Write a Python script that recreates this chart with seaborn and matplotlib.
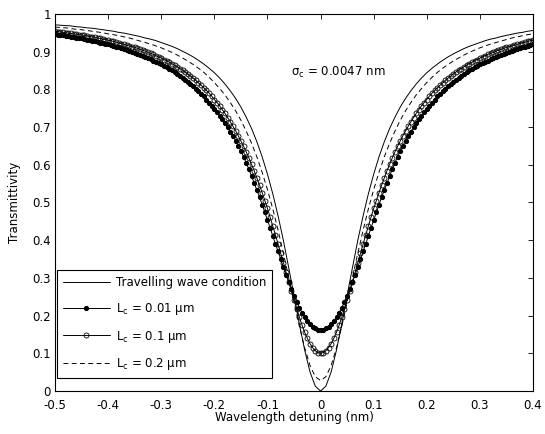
import numpy as np
import matplotlib
matplotlib.use("Agg")
import matplotlib.pyplot as plt
import seaborn as sns
from matplotlib.ticker import FuncFormatter, MultipleLocator

# detuning grids (nm): lines every 0.01, marker curves every 0.005
x_line = np.round(np.linspace(-0.5, 0.4, 91), 3)
x_mark = np.round(np.linspace(-0.5, 0.4, 181), 4)

# travelling wave condition
trav_wave = [
    0.971, 0.970, 0.969, 0.968, 0.966, 0.965, 0.963, 0.962, 0.960, 0.958,
    0.956, 0.954, 0.951, 0.949, 0.946, 0.943, 0.940, 0.936, 0.933, 0.929,
    0.924, 0.919, 0.914, 0.908, 0.901, 0.894, 0.886, 0.877, 0.867, 0.856,
    0.844, 0.830, 0.814, 0.796, 0.776, 0.753, 0.726, 0.696, 0.661, 0.621,
    0.575, 0.523, 0.464, 0.399, 0.327, 0.253, 0.178, 0.109, 0.051, 0.013,
    0.000,
    0.013, 0.051, 0.109, 0.178, 0.253, 0.327, 0.399, 0.464, 0.523, 0.575,
    0.621, 0.661, 0.696, 0.726, 0.753, 0.776, 0.796, 0.814, 0.830, 0.844,
    0.856, 0.867, 0.877, 0.886, 0.894, 0.901, 0.908, 0.914, 0.919, 0.924,
    0.929, 0.933, 0.936, 0.940, 0.943, 0.946, 0.949, 0.951, 0.954, 0.956,
]

# Lc = 0.2 um (dashed)
lc_02 = [
    0.965, 0.964, 0.963, 0.961, 0.959, 0.958, 0.956, 0.954, 0.952, 0.950,
    0.947, 0.945, 0.942, 0.939, 0.936, 0.932, 0.928, 0.924, 0.920, 0.915,
    0.910, 0.904, 0.898, 0.891, 0.883, 0.875, 0.866, 0.856, 0.845, 0.832,
    0.818, 0.802, 0.785, 0.765, 0.743, 0.718, 0.689, 0.657, 0.621, 0.580,
    0.534, 0.483, 0.426, 0.365, 0.301, 0.235, 0.172, 0.115, 0.068, 0.038,
    0.028,
    0.038, 0.068, 0.115, 0.172, 0.235, 0.301, 0.365, 0.426, 0.483, 0.534,
    0.580, 0.621, 0.657, 0.689, 0.718, 0.743, 0.765, 0.785, 0.802, 0.818,
    0.832, 0.845, 0.856, 0.866, 0.875, 0.883, 0.891, 0.898, 0.904, 0.910,
    0.915, 0.920, 0.924, 0.928, 0.932, 0.936, 0.939, 0.942, 0.945, 0.947,
]

# Lc = 0.01 um (filled dots)
lc_001 = [
    0.946, 0.945, 0.944, 0.943, 0.942, 0.941, 0.940, 0.938, 0.937, 0.936,
    0.935, 0.933, 0.932, 0.930, 0.929, 0.927, 0.926, 0.924, 0.922, 0.921,
    0.919, 0.917, 0.915, 0.913, 0.911, 0.909, 0.907, 0.904, 0.902, 0.900,
    0.897, 0.894, 0.892, 0.889, 0.886, 0.883, 0.880, 0.876, 0.873, 0.869,
    0.866, 0.862, 0.858, 0.854, 0.850, 0.845, 0.840, 0.835, 0.830, 0.825,
    0.819, 0.814, 0.808, 0.801, 0.795, 0.788, 0.781, 0.773, 0.765, 0.757,
    0.748, 0.739, 0.730, 0.720, 0.710, 0.699, 0.688, 0.676, 0.664, 0.651,
    0.637, 0.621, 0.605, 0.588, 0.570, 0.551, 0.533, 0.514, 0.494, 0.474,
    0.453, 0.433, 0.411, 0.390, 0.370, 0.349, 0.328, 0.308, 0.289, 0.270,
    0.253, 0.237, 0.221, 0.208, 0.196, 0.186, 0.178, 0.171, 0.166, 0.163,
    0.162,
    0.163, 0.166, 0.171, 0.178, 0.186, 0.196, 0.208, 0.221, 0.237, 0.253,
    0.270, 0.289, 0.308, 0.328, 0.349, 0.370, 0.390, 0.411, 0.433, 0.453,
    0.474, 0.494, 0.514, 0.533, 0.551, 0.570, 0.588, 0.605, 0.621, 0.637,
    0.651, 0.664, 0.676, 0.688, 0.699, 0.710, 0.720, 0.730, 0.739, 0.748,
    0.757, 0.765, 0.773, 0.781, 0.788, 0.795, 0.801, 0.808, 0.814, 0.819,
    0.825, 0.830, 0.835, 0.840, 0.845, 0.850, 0.854, 0.858, 0.862, 0.866,
    0.869, 0.873, 0.876, 0.880, 0.883, 0.886, 0.889, 0.892, 0.894, 0.897,
    0.900, 0.902, 0.904, 0.907, 0.909, 0.911, 0.913, 0.915, 0.917, 0.919,
]

# Lc = 0.1 um (open circles)
lc_01 = [
    0.954, 0.953, 0.952, 0.951, 0.950, 0.949, 0.948, 0.947, 0.946, 0.945,
    0.944, 0.943, 0.942, 0.940, 0.939, 0.938, 0.936, 0.935, 0.933, 0.932,
    0.930, 0.929, 0.927, 0.925, 0.923, 0.921, 0.919, 0.917, 0.915, 0.913,
    0.911, 0.909, 0.906, 0.904, 0.901, 0.898, 0.895, 0.893, 0.889, 0.886,
    0.883, 0.879, 0.876, 0.872, 0.868, 0.864, 0.860, 0.855, 0.851, 0.846,
    0.841, 0.835, 0.830, 0.824, 0.817, 0.811, 0.804, 0.797, 0.790, 0.782,
    0.773, 0.765, 0.756, 0.746, 0.736, 0.725, 0.714, 0.702, 0.690, 0.677,
    0.663, 0.649, 0.634, 0.618, 0.601, 0.584, 0.565, 0.546, 0.526, 0.505,
    0.484, 0.461, 0.438, 0.414, 0.390, 0.365, 0.340, 0.315, 0.290, 0.265,
    0.241, 0.218, 0.196, 0.175, 0.156, 0.140, 0.126, 0.115, 0.107, 0.102,
    0.100,
    0.102, 0.107, 0.115, 0.126, 0.140, 0.156, 0.175, 0.196, 0.218, 0.241,
    0.265, 0.290, 0.315, 0.340, 0.365, 0.390, 0.414, 0.438, 0.461, 0.484,
    0.505, 0.526, 0.546, 0.565, 0.584, 0.601, 0.618, 0.634, 0.649, 0.663,
    0.677, 0.690, 0.702, 0.714, 0.725, 0.736, 0.746, 0.756, 0.765, 0.773,
    0.782, 0.790, 0.797, 0.804, 0.811, 0.817, 0.824, 0.830, 0.835, 0.841,
    0.846, 0.851, 0.855, 0.860, 0.864, 0.868, 0.872, 0.876, 0.879, 0.883,
    0.886, 0.889, 0.893, 0.895, 0.898, 0.901, 0.904, 0.906, 0.909, 0.911,
    0.913, 0.915, 0.917, 0.919, 0.921, 0.923, 0.925, 0.927, 0.929, 0.930,
]

sns.set_style("white")
plt.rcParams["font.family"] = ["DejaVu Sans"]
plt.rcParams["mathtext.fontset"] = "dejavusans"
plt.rcParams["axes.unicode_minus"] = False
# MATLAB-like pure black text
for key in ["text.color", "axes.labelcolor", "xtick.color", "ytick.color"]:
    plt.rcParams[key] = "black"

fig = plt.figure(figsize=(5.45, 4.34), dpi=100)
ax = fig.add_axes([0.101, 0.099, 0.877, 0.869])

sns.lineplot(x=x_line, y=trav_wave, ax=ax, color="k", lw=0.7,
             label="Travelling wave condition")
sns.lineplot(x=x_mark, y=lc_001, ax=ax, color="k", lw=0.7, marker="o",
             markersize=3.0, markerfacecolor="k", markeredgecolor="k",
             label=r"$\mathregular{L_c}$ = 0.01 μm")
sns.lineplot(x=x_mark, y=lc_01, ax=ax, color="k", lw=0.7, marker="o",
             markersize=3.6, markerfacecolor="none", markeredgecolor="k",
             markeredgewidth=0.6, label=r"$\mathregular{L_c}$ = 0.1 μm")
sns.lineplot(x=x_line, y=lc_02, ax=ax, color="k", lw=0.7,
             label=r"$\mathregular{L_c}$ = 0.2 μm")
ax.lines[-1].set_dashes([5, 3.5])

ax.text(-0.055, 0.845, r"$\mathregular{\sigma_c}$ = 0.0047 nm",
        fontsize=8.5, va="center", ha="left")


def tick_fmt(v, pos):
    r = round(v, 2)
    if r == 0:
        return "0"
    return f"{r:g}"


ax.set_xlim(-0.5, 0.4)
ax.set_ylim(0, 1)
ax.xaxis.set_major_locator(MultipleLocator(0.1))
ax.yaxis.set_major_locator(MultipleLocator(0.1))
ax.xaxis.set_major_formatter(FuncFormatter(tick_fmt))
ax.yaxis.set_major_formatter(FuncFormatter(tick_fmt))
ax.tick_params(direction="in", top=True, right=True, length=3.5,
               width=0.6, labelsize=8.5)
ax.tick_params(axis="x", pad=6)
ax.tick_params(axis="y", pad=3)
for s in ax.spines.values():
    s.set_color("k")
    s.set_linewidth(0.8)

ax.set_xlabel("Wavelength detuning (nm)", fontsize=8.5, labelpad=-1)
ax.set_ylabel("Transmittivity", fontsize=8.5, labelpad=8)

leg = ax.legend(loc="lower left", bbox_to_anchor=(0.004, 0.034),
                borderaxespad=0, fontsize=8.5, fancybox=False,
                edgecolor="k", framealpha=1, handlelength=4.0,
                handletextpad=0.5, labelspacing=1.0, numpoints=1,
                borderpad=0.5)
leg.get_frame().set_linewidth(0.8)

fig.savefig("out.png", dpi=100)
